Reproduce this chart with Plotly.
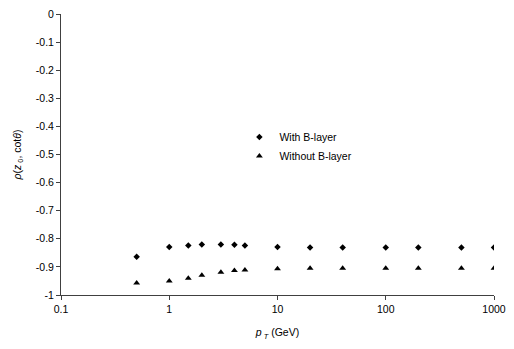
import plotly.graph_objects as go

# Transverse momentum points (GeV)
pt = [0.5, 1, 1.5, 2, 3, 4, 5, 10, 20, 40, 100, 200, 500, 1000]

# Correlation coefficient rho(z0, cot theta)
rho_with_b = [-0.864, -0.829, -0.824, -0.820, -0.820, -0.821, -0.824,
              -0.829, -0.831, -0.831, -0.831, -0.831, -0.831, -0.831]
rho_without_b = [-0.957, -0.950, -0.940, -0.930, -0.919, -0.913, -0.911,
                 -0.907, -0.905, -0.905, -0.905, -0.905, -0.905, -0.905]

y_ticks = [0, -0.1, -0.2, -0.3, -0.4, -0.5, -0.6, -0.7, -0.8, -0.9, -1]
x_ticks = [0.1, 1, 10, 100, 1000]

FONT = "Liberation Sans, Arial, sans-serif"

fig = go.Figure()
fig.add_trace(go.Scatter(
    x=pt, y=rho_with_b, mode="markers", name="With B-layer",
    marker=dict(symbol="diamond", size=5, color="black"),
))
fig.add_trace(go.Scatter(
    x=pt, y=rho_without_b, mode="markers", name="Without B-layer",
    marker=dict(symbol="triangle-up", size=6, color="black"),
))

fig.update_layout(
    width=514, height=349,
    margin=dict(l=61, r=19, t=8, b=54),
    paper_bgcolor="white", plot_bgcolor="white",
    font=dict(family=FONT, size=10.5, color="black"),
    showlegend=True,
    legend=dict(
        x=0.412, y=0.614, xanchor="left", yanchor="top",
        bgcolor="rgba(0,0,0,0)", font=dict(size=10.5),
        tracegroupgap=0, itemwidth=30,
    ),
    xaxis=dict(
        type="log", range=[-1, 3],
        tickvals=x_ticks, ticktext=[str(v) for v in x_ticks],
        showgrid=False, zeroline=False,
        showline=True, linecolor="#404040", linewidth=1,
        ticks="outside", ticklen=4, tickcolor="#404040",
        title=dict(text="<i>p</i><sub> <i>T</i></sub> (GeV)", standoff=15,
                   font=dict(size=10.5)),
    ),
    yaxis=dict(
        range=[-1, 0],
        tickvals=y_ticks, ticktext=[f"{v:g}" for v in y_ticks],
        showgrid=False, zeroline=False,
        showline=True, linecolor="#404040", linewidth=1,
        ticks="outside", ticklen=4, tickcolor="#404040",
        title=dict(text="<i>ρ</i>(<i>z</i><sub> 0</sub>, cot<i>θ</i>)",
                   standoff=12, font=dict(size=10.5)),
    ),
)

fig.write_html("out.html")
